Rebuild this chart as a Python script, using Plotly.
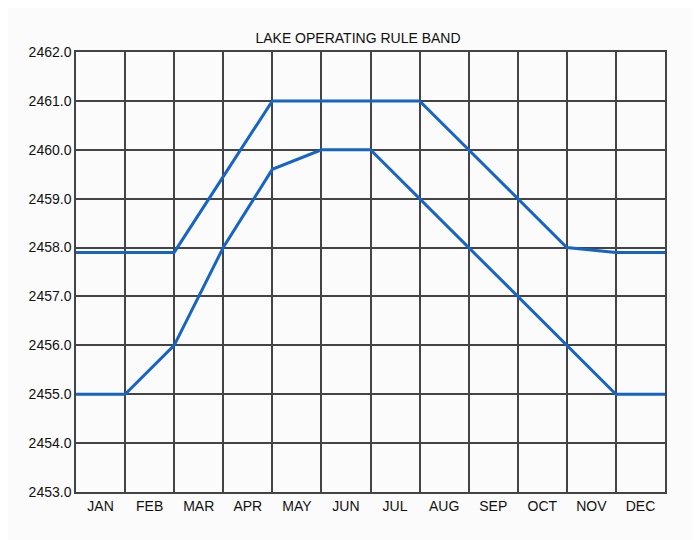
import plotly.graph_objects as go

# --- Data (values at month boundaries) ---
months = ["JAN", "FEB", "MAR", "APR", "MAY", "JUN",
          "JUL", "AUG", "SEP", "OCT", "NOV", "DEC"]
boundary_pos = [0, 1, 2, 3, 4, 5, 6, 7, 8, 9, 10, 11, 12]
month_pos = [0.5, 1.5, 2.5, 3.5, 4.5, 5.5, 6.5, 7.5, 8.5, 9.5, 10.5, 11.5]

upper_band = [2457.9, 2457.9, 2457.9, 2459.45, 2461.0, 2461.0, 2461.0,
              2461.0, 2460.0, 2459.0, 2458.0, 2457.9, 2457.9]
lower_band = [2455.0, 2455.0, 2456.0, 2458.0, 2459.6, 2460.0, 2460.0,
              2459.0, 2458.0, 2457.0, 2456.0, 2455.0, 2455.0]

y_ticks = [2453.0, 2454.0, 2455.0, 2456.0, 2457.0, 2458.0,
           2459.0, 2460.0, 2461.0, 2462.0]

LINE_COLOR = "#1664c4"
GRID_COLOR = "#444444"
PAPER = "#fbfbfb"
TXT = "#111111"

fig = go.Figure()

# upper and lower rule curves
fig.add_trace(go.Scatter(x=boundary_pos, y=upper_band, mode="lines",
                         line=dict(color=LINE_COLOR, width=3), name="Upper"))
fig.add_trace(go.Scatter(x=boundary_pos, y=lower_band, mode="lines",
                         line=dict(color=LINE_COLOR, width=3), name="Lower"))

# dummy trace so xaxis2 (month labels) is drawn
fig.add_trace(go.Scatter(x=[None], y=[None], xaxis="x2", yaxis="y",
                         showlegend=False, hoverinfo="skip"))

# --- Layout ---
# page body has an 8px margin, so offsets are shifted by that
fig.update_layout(
    width=700, height=540,
    margin=dict(l=68, r=43, t=44, b=56),
    paper_bgcolor=PAPER, plot_bgcolor=PAPER,
    showlegend=False,
    font=dict(family="Liberation Sans, Arial, sans-serif", size=14, color=TXT),
    title=dict(text="LAKE OPERATING RULE BAND", x=0.5, xanchor="center",
               y=0.945, yanchor="middle",
               font=dict(size=14, color=TXT)),
    # grid axis at month boundaries
    xaxis=dict(range=[0, 12], tickmode="array", tickvals=boundary_pos,
               showticklabels=False, ticks="", showgrid=True,
               gridcolor=GRID_COLOR, gridwidth=1.5, zeroline=False,
               showline=True, linecolor=GRID_COLOR, linewidth=1.5, mirror=True),
    # label axis, month names centred in each column
    xaxis2=dict(range=[0, 12], overlaying="x", side="bottom",
                tickmode="array", tickvals=month_pos, ticktext=months,
                showgrid=False, zeroline=False, ticks="",
                ticklabelstandoff=4,
                tickfont=dict(size=14, color=TXT)),
    yaxis=dict(range=[2453, 2462], tickmode="array", tickvals=y_ticks,
               tickformat=".1f", showgrid=True, gridcolor=GRID_COLOR,
               gridwidth=1.5, zeroline=False, ticks="",
               showline=True, linecolor=GRID_COLOR, linewidth=1.5, mirror=True,
               tickfont=dict(size=14, color=TXT)),
)

fig.write_html("out.html")
